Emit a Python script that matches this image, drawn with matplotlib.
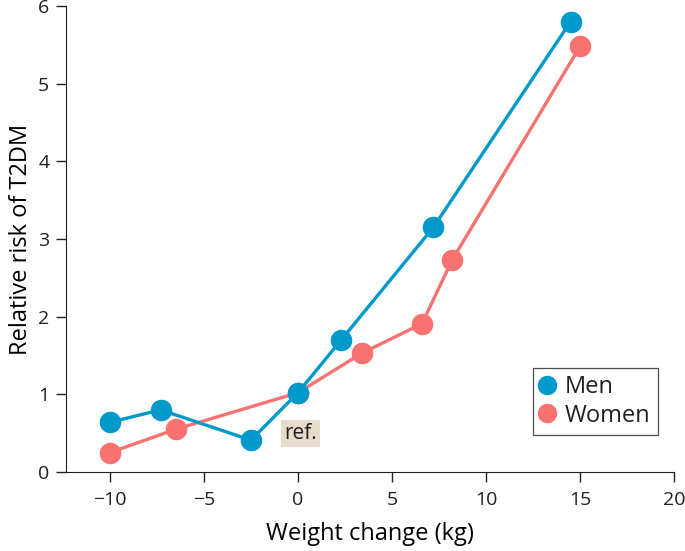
import matplotlib
matplotlib.use("Agg")
import matplotlib.pyplot as plt

# weight change (kg) and relative risk of T2DM
men_x = [-10, -7.3, -2.5, 0, 2.3, 7.2, 14.5]
men_y = [0.64, 0.80, 0.41, 1.02, 1.70, 3.15, 5.80]
women_x = [-10, -6.5, 0, 3.4, 6.6, 8.2, 15.0]
women_y = [0.25, 0.55, 1.02, 1.53, 1.91, 2.73, 5.48]

xticks = [-10, -5, 0, 5, 10, 15, 20]
yticks = [0, 1, 2, 3, 4, 5, 6]

men_color = "#0099cc"
women_color = "#f87272"

plt.rcParams['font.family'] = ['Open Sans', 'DejaVu Sans']
plt.rcParams['text.color'] = '#231f20'

fig = plt.figure(figsize=(6.85, 5.51), dpi=100)
ax = fig.add_axes([0.0964, 0.1434, 0.8876, 0.8455])

ax.plot(women_x, women_y, color=women_color, lw=2.4, marker='o', ms=14.5,
        label='Women', zorder=3)
ax.plot(men_x, men_y, color=men_color, lw=2.4, marker='o', ms=14.5,
        label='Men', zorder=4)

ax.text(0.15, 0.5, 'ref.', fontsize=15, ha='center', va='center',
        bbox=dict(boxstyle='square,pad=0.15', fc='#e5dccb', ec='none'))

ax.set_xlim(-12.33, 20)
ax.set_ylim(0, 6)
ax.set_xticks(xticks)
ax.set_yticks(yticks)
ax.set_xticklabels([str(t).replace('-', '\u2212') for t in xticks])
ax.tick_params(direction='out', length=7, width=1, labelsize=14,
               colors='#231f20', pad=5)
ax.tick_params(axis='x', pad=7)
ax.spines['top'].set_visible(False)
ax.spines['right'].set_visible(False)
for s in ['left', 'bottom']:
    ax.spines[s].set_color('#231f20')

ax.set_xlabel('Weight change (kg)', fontsize=17, labelpad=9)
ax.set_ylabel('Relative risk of T2DM', fontsize=17, labelpad=4)

handles, labels = ax.get_legend_handles_labels()
leg = ax.legend(handles[::-1], labels[::-1], loc='lower right',
                bbox_to_anchor=(0.985, 0.065), fontsize=17, frameon=True,
                fancybox=False, edgecolor='#231f20', handlelength=0.6,
                handletextpad=0.45, borderpad=0.3, labelspacing=0.2,
                borderaxespad=0.3)
for h in leg.get_lines():
    h.set_linestyle('none')
    h.set_markersize(13)
leg.get_frame().set_linewidth(0.9)

fig.savefig('out.png', dpi=100)
